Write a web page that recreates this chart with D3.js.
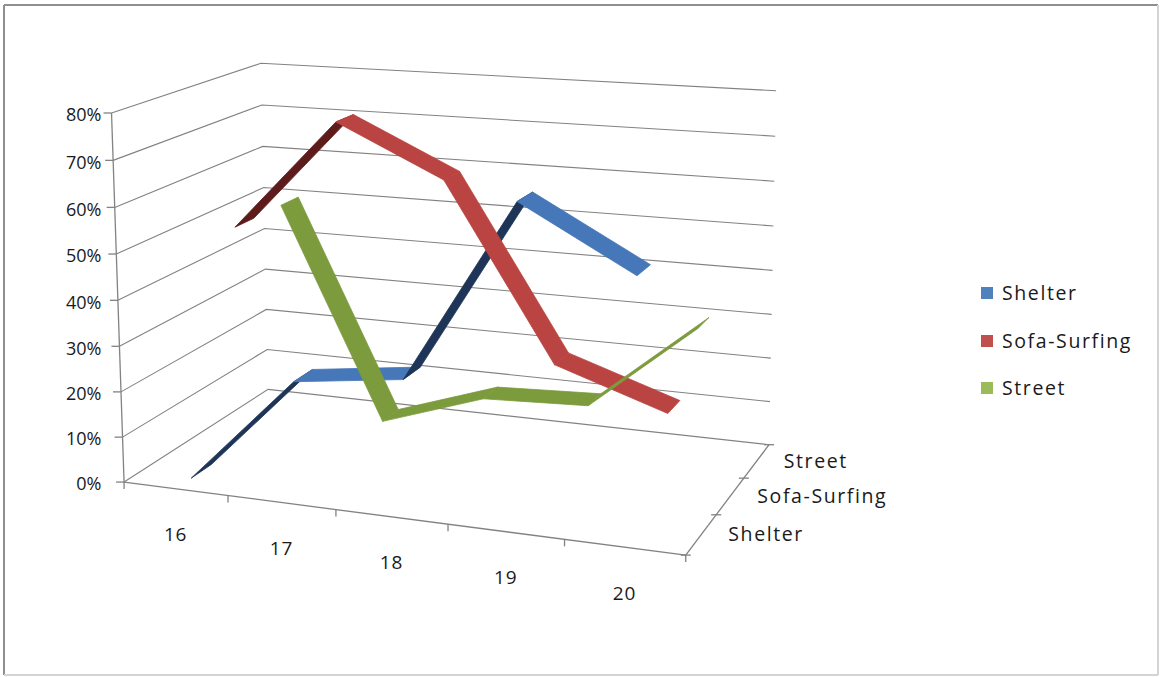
<!DOCTYPE html>
<html>
<head>
<meta charset="utf-8">
<script src="https://cdn.jsdelivr.net/npm/d3@7/dist/d3.min.js"></script>
<style>
  html, body { margin: 0; padding: 0; background: #ffffff; }
  svg text { font-family: "Open Sans", "Noto Sans", sans-serif; fill: #1a1a1a; }
</style>
</head>
<body>
<script>
// ---- data ----
const categories = ["16", "17", "18", "19", "20"];
const seriesNames = ["Shelter", "Sofa-Surfing", "Street"];
const shelter     = [0.00, 0.24, 0.27, 0.66, 0.53];
const sofaSurfing = [0.50, 0.75, 0.64, 0.26, 0.18];
const street      = [0.50, 0.01, 0.09, 0.10, 0.30];
const valueTicks  = [0, 0.1, 0.2, 0.3, 0.4, 0.5, 0.6, 0.7, 0.8];

// ---- styles ----
const topColors    = { "Shelter": "#4677b8", "Sofa-Surfing": "#ba4441", "Street": "#7c9b3d" };
const bottomColors = { "Shelter": "#1e3558", "Sofa-Surfing": "#5e1b1b", "Street": "#566d26" };
const legendColors = { "Shelter": "#4f81bd", "Sofa-Surfing": "#c0504d", "Street": "#9bbb59" };
const gridColor = "#828282";

const W = 1161, H = 677;
const svg = d3.select("body").append("svg").attr("width", W).attr("height", H);

// ---- scales into box units: x 0..5 (categories), y 0..8 (value), z 0..3 (series) ----
const x = d3.scaleBand().domain(categories).range([0, 5]);
const y = d3.scaleLinear().domain([0, 0.8]).range([0, 8]);
const z = d3.scaleBand().domain(seriesNames).range([0, 3]);

// ---- perspective camera fitted to the plot box corners on screen ----
const frameAnchors = [
  [[0, 0, 0], [126, 483]], [[0, 4, 0], [118, 300]], [[0, 8, 0], [111, 112]],
  [[0, 0, 3], [267, 388]], [[0, 4, 3], [264, 230]], [[0, 8, 3], [262, 63]],
  [[5, 0, 0], [685, 554]], [[5, 0, 3], [771, 443]], [[5, 4, 3], [770, 271]],
  [[5, 8, 3], [777, 91]],
  [[1, 0, 0], [227, 496]], [[2, 0, 0], [336, 510]], [[3, 0, 0], [448, 524]],
  [[4, 0, 0], [564, 539]], [[5, 0, 1], [717, 516]], [[5, 0, 2], [744, 479]]
];

function fitCamera(pairs) {
  const rows = [], rhs = [];
  pairs.forEach(([[X, Y, Z], [u, v]]) => {
    rows.push([X, Y, Z, 1, 0, 0, 0, 0, -u * X, -u * Y, -u * Z]); rhs.push(u);
    rows.push([0, 0, 0, 0, X, Y, Z, 1, -v * X, -v * Y, -v * Z]); rhs.push(v);
  });
  const n = 11;
  const M = Array.from({ length: n }, () => new Array(n + 1).fill(0));
  rows.forEach((r, k) => {
    for (let i = 0; i < n; i++) {
      for (let j = 0; j < n; j++) M[i][j] += r[i] * r[j];
      M[i][n] += r[i] * rhs[k];
    }
  });
  for (let c = 0; c < n; c++) {
    let p = c;
    for (let r = c + 1; r < n; r++) if (Math.abs(M[r][c]) > Math.abs(M[p][c])) p = r;
    [M[c], M[p]] = [M[p], M[c]];
    for (let r = 0; r < n; r++) {
      if (r === c) continue;
      const f = M[r][c] / M[c][c];
      for (let j = c; j <= n; j++) M[r][j] -= f * M[c][j];
    }
  }
  return M.map((row, i) => row[n] / row[i]);
}
const cam = fitCamera(frameAnchors);
function P(X, Y, Z) {
  const w = cam[8] * X + cam[9] * Y + cam[10] * Z + 1;
  return [(cam[0] * X + cam[1] * Y + cam[2] * Z + cam[3]) / w,
          (cam[4] * X + cam[5] * Y + cam[6] * Z + cam[7]) / w];
}

// ---- outer frame ----
svg.append("line").attr("x1", 4).attr("y1", 5).attr("x2", 1158).attr("y2", 5)
  .attr("stroke", "#8f8f8f").attr("stroke-width", 2);
svg.append("line").attr("x1", 4).attr("y1", 5).attr("x2", 4).attr("y2", 675)
  .attr("stroke", "#8f8f8f").attr("stroke-width", 2);
svg.append("line").attr("x1", 1158).attr("y1", 5).attr("x2", 1158).attr("y2", 675)
  .attr("stroke", "#d4d4d4").attr("stroke-width", 2);
svg.append("line").attr("x1", 4).attr("y1", 675).attr("x2", 1158).attr("y2", 675)
  .attr("stroke", "#d4d4d4").attr("stroke-width", 2);

const X0 = 0, X1 = x.range()[1], Z0 = 0, Z1 = z.range()[1];
const seg = (g, a, b, color, w) => g.append("line")
  .attr("x1", a[0]).attr("y1", a[1]).attr("x2", b[0]).attr("y2", b[1])
  .attr("stroke", color).attr("stroke-width", w || 1);

// ---- walls: gridlines on side wall and back wall ----
const grid = svg.append("g");
valueTicks.forEach(t => {
  const a = P(X0, y(t), Z0), b = P(X0, y(t), Z1), c = P(X1, y(t), Z1);
  grid.append("polyline")
    .attr("points", [a, b, c].map(p => p.join(",")).join(" "))
    .attr("fill", "none").attr("stroke", gridColor).attr("stroke-width", 1.1);
});

// ---- axes ----
const axes = svg.append("g");
seg(axes, P(X0, 0, Z0), P(X0, y(0.8), Z0), gridColor, 1.3);
seg(axes, P(X0, 0, Z0), P(X1, 0, Z0), gridColor, 1.3);
seg(axes, P(X1, 0, Z0), P(X1, 0, Z1), gridColor, 1.3);

valueTicks.forEach(t => {
  const p = P(X0, y(t), Z0);
  seg(axes, [p[0] - 8, p[1]], p, gridColor, 1.3);
});
d3.range(categories.length + 1).forEach(i => {
  const p = P(i * x.bandwidth(), 0, Z0);
  seg(axes, p, [p[0], p[1] + 7], gridColor, 1.3);
});
d3.range(seriesNames.length + 1).forEach(j => {
  const p = P(X1, 0, j * z.bandwidth());
  seg(axes, [p[0] - 5, p[1]], [p[0] + 5, p[1]], gridColor, 1.3);
});

// value labels, right-aligned against the leftmost point of the axis
const labelRight = d3.min(valueTicks, t => P(X0, y(t), Z0)[0]) - 10;
const fmt = d3.format(".0%");
axes.selectAll("text.v").data(valueTicks).join("text")
  .attr("x", labelRight)
  .attr("y", t => P(X0, y(t), Z0)[1] + 2)
  .attr("dy", "0.35em").attr("text-anchor", "end")
  .attr("font-size", 18)
  .text(t => fmt(t));

axes.selectAll("text.c").data(categories).join("text")
  .attr("x", c => P(x(c) + x.bandwidth() / 2, 0, Z0)[0])
  .attr("y", c => P(x(c) + x.bandwidth() / 2, 0, Z0)[1] + 46)
  .attr("dy", "0.35em").attr("text-anchor", "middle")
  .attr("font-size", 19).attr("letter-spacing", 0.8)
  .text(c => c);

axes.selectAll("text.s").data(seriesNames).join("text")
  .attr("x", s => P(X1, 0, z(s) + z.bandwidth() / 2)[0] + 27)
  .attr("y", s => P(X1, 0, z(s) + z.bandwidth() / 2)[1])
  .attr("dy", "0.35em").attr("text-anchor", "start")
  .attr("font-size", 19.5).attr("letter-spacing", 1.6)
  .text(s => s);

// ---- 3D line ribbons ----
const seriesValues = { "Shelter": shelter, "Sofa-Surfing": sofaSurfing, "Street": street };
const ribbonDepth = z.bandwidth() * 0.4;
const ribbons = svg.append("g");

seriesNames.forEach(name => {
  const vals = seriesValues[name];
  const zc = z(name) + z.bandwidth() / 2;
  const zf = zc - ribbonDepth / 2, zb = zc + ribbonDepth / 2;
  const g = ribbons.append("g");
  for (let i = 0; i < vals.length - 1; i++) {
    const xa = x(categories[i]) + x.bandwidth() / 2;
    const xb = x(categories[i + 1]) + x.bandwidth() / 2;
    const pts = [P(xa, y(vals[i]), zf), P(xb, y(vals[i + 1]), zf),
                 P(xb, y(vals[i + 1]), zb), P(xa, y(vals[i]), zb)];
    let s = 0;
    for (let k = 0; k < 4; k++) {
      const a = pts[k], b = pts[(k + 1) % 4];
      s += a[0] * b[1] - b[0] * a[1];
    }
    const col = s < 0 ? topColors[name] : bottomColors[name];
    g.append("polygon")
      .attr("points", pts.map(p => p.join(",")).join(" "))
      .attr("fill", col).attr("stroke", col).attr("stroke-width", 0.8)
      .attr("stroke-linejoin", "round");
  }
});

// ---- legend ----
const legend = svg.append("g");
const legendY = { "Shelter": 293, "Sofa-Surfing": 341, "Street": 388 };
seriesNames.forEach(name => {
  legend.append("rect").attr("x", 981).attr("y", legendY[name] - 6)
    .attr("width", 12).attr("height", 12).attr("fill", legendColors[name]);
  legend.append("text").attr("x", 1002).attr("y", legendY[name])
    .attr("dy", "0.35em").attr("font-size", 19.5).attr("letter-spacing", 1.6)
    .text(name);
});
</script>
</body>
</html>
